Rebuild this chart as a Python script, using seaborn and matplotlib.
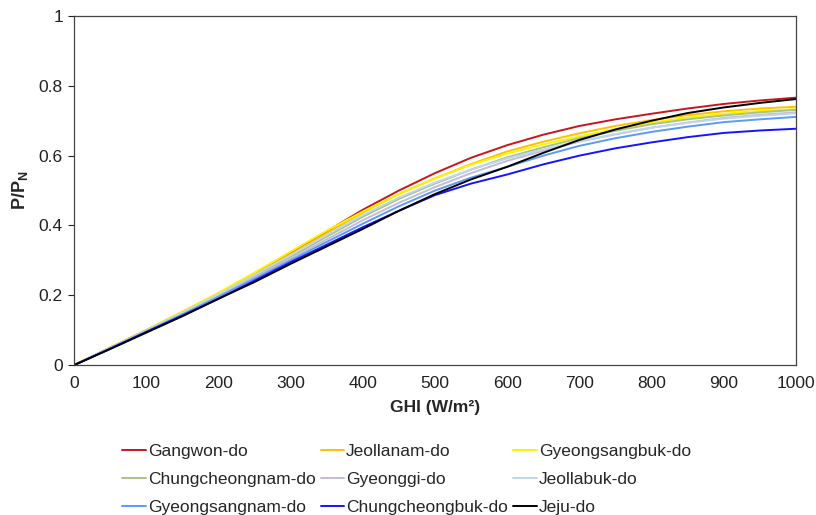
import pandas as pd
import matplotlib.pyplot as plt
import seaborn as sns

# GHI steps (W/m²)
ghi = [0, 50, 100, 150, 200, 250, 300, 350, 400, 450, 500,
       550, 600, 650, 700, 750, 800, 850, 900, 950, 1000]

regions = ["Gangwon-do", "Jeollanam-do", "Gyeongsangbuk-do",
           "Chungcheongnam-do", "Gyeonggi-do", "Jeollabuk-do",
           "Gyeongsangnam-do", "Chungcheongbuk-do", "Jeju-do"]

gangwon = [0, 0.050, 0.100, 0.152, 0.205, 0.260, 0.320, 0.383, 0.445, 0.500, 0.550,
           0.594, 0.630, 0.660, 0.685, 0.704, 0.720, 0.735, 0.748, 0.758, 0.766]
jeollanam = [0, 0.050, 0.100, 0.152, 0.205, 0.260, 0.318, 0.378, 0.437, 0.490, 0.535,
             0.576, 0.612, 0.640, 0.664, 0.685, 0.702, 0.716, 0.727, 0.735, 0.740]
gyeongsangbuk = [0, 0.050, 0.100, 0.153, 0.207, 0.265, 0.325, 0.385, 0.440, 0.490, 0.535,
                 0.574, 0.606, 0.632, 0.655, 0.677, 0.695, 0.709, 0.720, 0.728, 0.733]
chungcheongnam = [0, 0.049, 0.098, 0.148, 0.200, 0.254, 0.310, 0.368, 0.425, 0.476, 0.520,
                  0.560, 0.595, 0.624, 0.650, 0.671, 0.690, 0.704, 0.715, 0.724, 0.731]
gyeonggi = [0, 0.048, 0.097, 0.147, 0.198, 0.250, 0.305, 0.360, 0.415, 0.465, 0.510,
            0.550, 0.585, 0.614, 0.640, 0.661, 0.680, 0.695, 0.708, 0.717, 0.724]
jeollabuk = [0, 0.049, 0.098, 0.150, 0.202, 0.258, 0.315, 0.373, 0.430, 0.480, 0.523,
             0.560, 0.592, 0.618, 0.642, 0.662, 0.680, 0.694, 0.706, 0.714, 0.721]
gyeongsangnam = [0, 0.048, 0.096, 0.145, 0.196, 0.247, 0.300, 0.353, 0.405, 0.455, 0.500,
                 0.537, 0.568, 0.600, 0.628, 0.650, 0.668, 0.683, 0.696, 0.704, 0.711]
chungcheongbuk = [0, 0.047, 0.095, 0.142, 0.190, 0.242, 0.295, 0.345, 0.395, 0.442, 0.487,
                  0.520, 0.546, 0.575, 0.600, 0.621, 0.638, 0.653, 0.665, 0.672, 0.677]
jeju = [0, 0.046, 0.093, 0.140, 0.190, 0.238, 0.290, 0.340, 0.390, 0.442, 0.490,
        0.532, 0.568, 0.608, 0.645, 0.675, 0.700, 0.722, 0.738, 0.751, 0.762]

series = [gangwon, jeollanam, gyeongsangbuk, chungcheongnam, gyeonggi,
          jeollabuk, gyeongsangnam, chungcheongbuk, jeju]
colors = ["#C8161D", "#FFC000", "#FFF200", "#A9C47F", "#C6B9DC",
          "#BDD7EE", "#5B9BF5", "#1414FF", "#000000"]

rows = []
for name, vals in zip(regions, series):
    for g, v in zip(ghi, vals):
        rows.append({"GHI": g, "P": v, "Region": name})
df = pd.DataFrame(rows)

sns.set_theme(style="white")
plt.rcParams["font.family"] = ["Liberation Sans", "DejaVu Sans"]
plt.rcParams["mathtext.fontset"] = "custom"
plt.rcParams["mathtext.bf"] = "Liberation Sans:bold"
plt.rcParams["mathtext.rm"] = "Liberation Sans"

fig = plt.figure(figsize=(8.16, 5.15), dpi=100)
ax = fig.add_axes([0.0907, 0.291, 0.8848, 0.678])

sns.lineplot(data=df, x="GHI", y="P", hue="Region", hue_order=regions,
             palette=colors, linewidth=1.4, ax=ax, legend=True)

ax.set_xlim(0, 1000)
ax.set_ylim(0, 1)
ax.set_xticks(range(0, 1001, 100))
ax.set_yticks([0, 0.2, 0.4, 0.6, 0.8, 1])
ax.set_yticklabels(["0", "0.2", "0.4", "0.6", "0.8", "1"])
ax.tick_params(axis="both", labelsize=12.5, colors="#222222", length=4,
               width=0.8, direction="out")
ax.tick_params(axis="x", length=0, pad=8)
ax.tick_params(axis="y", left=True, pad=4)
for s in ax.spines.values():
    s.set_color("#444444")
    s.set_linewidth(0.9)

ax.set_xlabel("GHI (W/m²)", fontsize=12.5, fontweight="bold", labelpad=6)
ax.set_ylabel(r"$\mathbf{P/P_N}$", fontsize=13, labelpad=6)

# legend filled row by row, like the original
handles, labels = ax.get_legend_handles_labels()
order = [0, 3, 6, 1, 4, 7, 2, 5, 8]
ax.legend([handles[i] for i in order], [labels[i] for i in order],
          loc="upper left", bbox_to_anchor=(0.045, -0.18),
          ncol=3, frameon=False, fontsize=12.5, handlelength=1.35,
          handletextpad=0.12, columnspacing=0.3, labelspacing=0.75)

fig.savefig("out.png", dpi=100)
